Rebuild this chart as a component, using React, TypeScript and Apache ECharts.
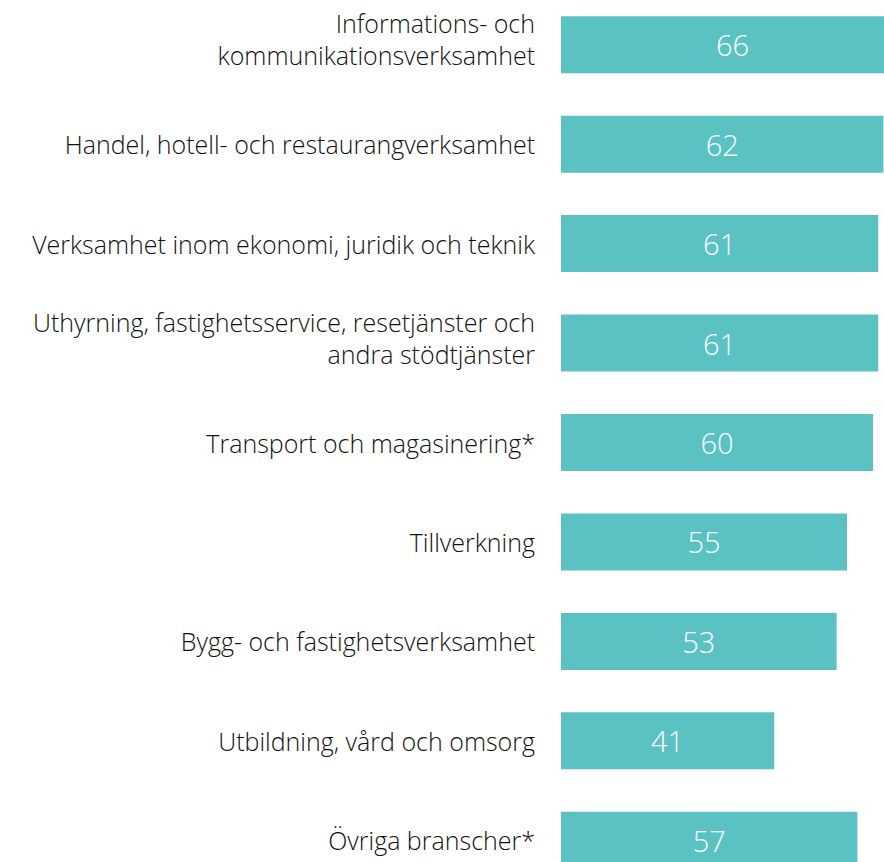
import React, { useEffect, useRef } from "react";
import * as echarts from "echarts";

const categories = [
  "Informations- och\nkommunikationsverksamhet",
  "Handel, hotell- och restaurangverksamhet",
  "Verksamhet inom ekonomi, juridik och teknik",
  "Uthyrning, fastighetsservice, resetjänster och\nandra stödtjänster",
  "Transport och magasinering*",
  "Tillverkning",
  "Bygg- och fastighetsverksamhet",
  "Utbildning, vård och omsorg",
  "Övriga branscher*",
];
const values = [66, 62, 61, 61, 60, 55, 53, 41, 57];

const FONT = "'Open Sans', 'Liberation Sans', Arial, sans-serif";

export default function App() {
  const ref = useRef<HTMLDivElement>(null);
  useEffect(() => {
    document.body.style.margin = "0";
    const chart = echarts.init(ref.current!, undefined, { renderer: "svg" });
    chart.setOption({
      animation: false,
      grid: { left: 561, top: 0, width: 364, height: 895 },
      xAxis: {
        type: "value",
        min: 0,
        max: 70,
        show: false,
        splitLine: { show: false },
      },
      yAxis: {
        type: "category",
        inverse: true,
        data: categories,
        axisLine: { show: false },
        axisTick: { show: false },
        axisLabel: {
          margin: 26,
          color: "#111111",
          fontSize: 25,
          fontWeight: 300,
          lineHeight: 32,
          fontFamily: FONT,
          align: "right",
          formatter: (v: string) => (v.includes("\n") ? v + "\n{s| }" : v),
          rich: { s: { fontSize: 1, lineHeight: 11 } },
        },
      },
      series: [
        {
          type: "bar",
          data: values,
          barWidth: 57,
          itemStyle: { color: "#5BC2C4" },
          label: {
            show: true,
            position: "inside",
            color: "#ffffff",
            fontSize: 29,
            fontWeight: 300,
            fontFamily: FONT,
          },
        },
      ],
    });
    return () => chart.dispose();
  }, []);
  return (
    <div style={{ position: "absolute", left: 0, top: 0, width: 884, height: 862, overflow: "hidden", background: "#fff" }}>
      <div ref={ref} style={{ position: "absolute", left: 0, top: -5, width: 930, height: 900 }} />
    </div>
  );
}
